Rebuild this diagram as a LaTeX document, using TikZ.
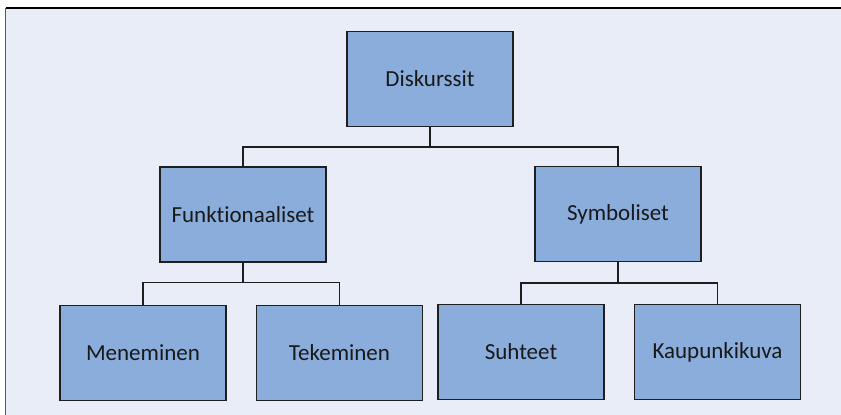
\documentclass[tikz,border=0pt]{standalone}
\usepackage{fontspec}
\setmainfont{Carlito}[Ligatures=NoCommon]
\definecolor{bgc}{HTML}{E9EDF8}
\definecolor{boxc}{HTML}{8AADDB}
\definecolor{edgec}{HTML}{1E1E1E}
\begin{document}
\begin{tikzpicture}[x=1pt,y=-1pt,
  box/.style={draw=edgec,line width=1.4pt,fill=boxc,minimum width=166pt,minimum height=95pt,inner sep=0pt,font=\fontsize{23}{25}\selectfont,text=black!90},
  conn/.style={draw=edgec,line width=1.5pt}]
\useasboundingbox (0,0) rectangle (841,415);
\fill[white] (0,0) rectangle (841,415);
\fill[bgc] (5.5,8) rectangle (841,415);
\draw[black,line width=1.5pt] (5.5,8) -- (841,8);
\draw[gray!70!black,line width=1pt] (5.5,8) -- (5.5,415);
\node[box] (d) at (430,79) {Diskurssit};
\node[box] (f) at (243,214.5) {Funktionaaliset};
\node[box] (s) at (618,214) {Symboliset};
\node[box] (m) at (143,353) {Meneminen};
\node[box] (t) at (339.5,353) {Tekeminen};
\node[box] (su) at (521,352) {Suhteet};
\node[box] (k) at (717.5,352) {Kaupunkikuva};
\draw[conn] (d.south) -- ++(0,20) -| (f.north);
\draw[conn] (d.south) -- ++(0,20) -| (s.north);
\draw[conn] (f.south) -- ++(0,20) -| (m.north);
\draw[conn] (f.south) -- ++(0,20) -| (t.north);
\draw[conn] (s.south) -- ++(0,21) -| (su.north);
\draw[conn] (s.south) -- ++(0,21) -| (k.north);
\end{tikzpicture}
\end{document}
